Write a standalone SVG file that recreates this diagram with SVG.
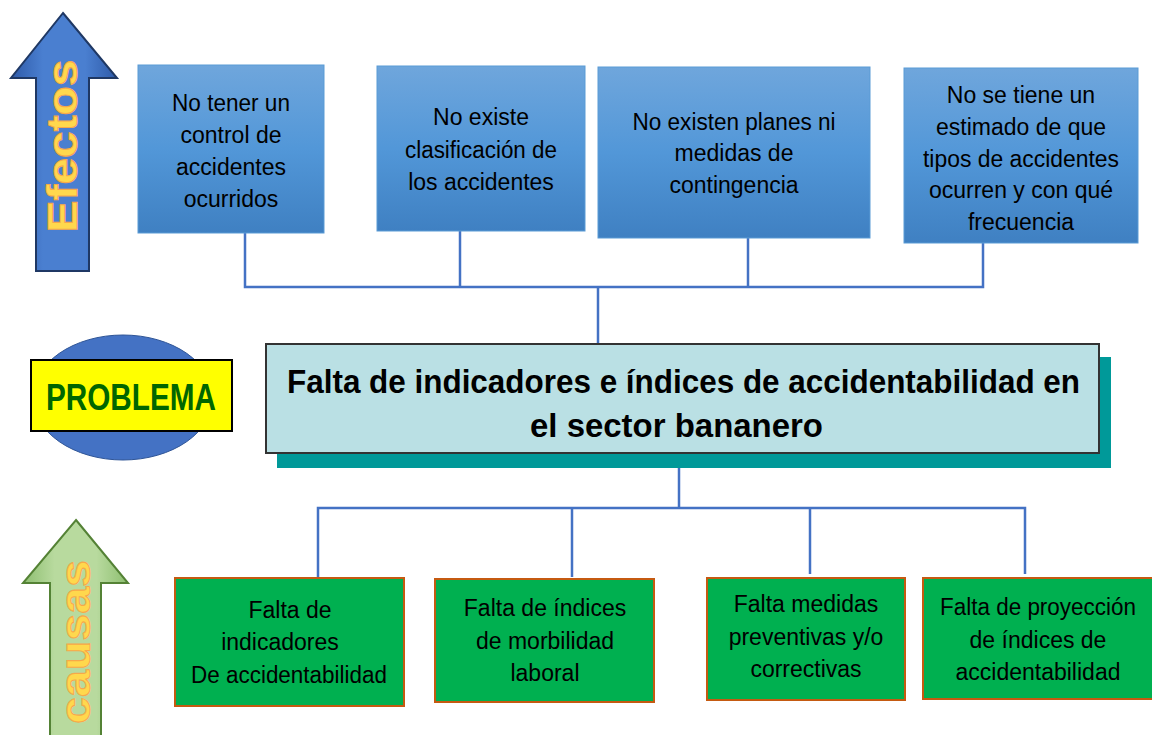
<svg xmlns="http://www.w3.org/2000/svg" width="1152" height="735" viewBox="0 0 1152 735">
<defs>
<linearGradient id="gBlue" x1="0" y1="0" x2="0" y2="1">
<stop offset="0" stop-color="#6FA6DC"/>
<stop offset="0.5" stop-color="#5297D8"/>
<stop offset="1" stop-color="#3F80C2"/>
</linearGradient>
<linearGradient id="gArrowBlue" x1="0" y1="0" x2="1" y2="0">
<stop offset="0" stop-color="#2E5AA8"/>
<stop offset="0.3" stop-color="#4A7FD0"/>
<stop offset="0.7" stop-color="#4A7FD0"/>
<stop offset="1" stop-color="#2E5AA8"/>
</linearGradient>
<linearGradient id="gArrowGreen" x1="0" y1="0" x2="1" y2="0">
<stop offset="0" stop-color="#8DBE70"/>
<stop offset="0.3" stop-color="#B8DA9E"/>
<stop offset="0.7" stop-color="#B8DA9E"/>
<stop offset="1" stop-color="#8DBE70"/>
</linearGradient>
</defs>
<style>
.conn{fill:none;stroke:#4472C4;stroke-width:2.5}
.eff rect{fill:url(#gBlue);stroke:#5B9BD5;stroke-width:1}
.cau rect{fill:#00B050;stroke:#C55A11;stroke-width:2}
.t{font-family:"Liberation Sans",Arial,sans-serif;font-size:23px;fill:#000;text-anchor:middle}
.big{font-family:"Liberation Sans",Arial,sans-serif;font-weight:bold;font-size:34px;fill:#000;text-anchor:middle}
.side{font-family:"Liberation Sans",Arial,sans-serif;font-weight:bold;font-size:42px;fill:#FFD84D;stroke:#F7A84A;stroke-width:1;text-anchor:middle}
</style>
<rect width="1152" height="735" fill="#FFFFFF"/>

<g id="arrow-efectos">
<polygon points="63,13 117,78 89,78 89,271 36,271 36,78 11,78" fill="url(#gArrowBlue)" stroke="#1F3864" stroke-width="2"/>
<text class="side" transform="translate(77,146) rotate(-90)" textLength="173" lengthAdjust="spacingAndGlyphs">Efectos</text>
</g>

<g id="arrow-causas">
<polygon points="76,520 128,583 101,583 101,740 50,740 50,583 23,583" fill="url(#gArrowGreen)" stroke="#548235" stroke-width="2"/>
<text class="side" transform="translate(90,642) rotate(-90)" textLength="164" lengthAdjust="spacingAndGlyphs">causas</text>
</g>

<g id="connectors">
<polyline class="conn" points="245,233 245,287 983,287 983,243"/>
<line class="conn" x1="460" y1="231" x2="460" y2="287"/>
<line class="conn" x1="748" y1="238" x2="748" y2="287"/>
<line class="conn" x1="598" y1="287" x2="598" y2="344"/>
<line class="conn" x1="679" y1="453" x2="679" y2="508"/>
<polyline class="conn" points="318,577 318,508 1025,508 1025,574"/>
<line class="conn" x1="572" y1="508" x2="572" y2="577"/>
<line class="conn" x1="810" y1="508" x2="810" y2="574"/>
</g>

<g id="efecto1" class="eff">
<rect x="138" y="65" width="186" height="168"/>
<text class="t" x="231" y="111" textLength="118" lengthAdjust="spacingAndGlyphs">No tener un</text>
<text class="t" x="231" y="143">control de</text>
<text class="t" x="231" y="175">accidentes</text>
<text class="t" x="231" y="207">ocurridos</text>
</g>
<g id="efecto2" class="eff">
<rect x="377" y="66" width="208" height="165"/>
<text class="t" x="481" y="125">No existe</text>
<text class="t" x="481" y="158" textLength="152" lengthAdjust="spacingAndGlyphs">clasificación de</text>
<text class="t" x="481" y="190">los accidentes</text>
</g>
<g id="efecto3" class="eff">
<rect x="598" y="67" width="272" height="171"/>
<text class="t" x="734" y="130" textLength="203" lengthAdjust="spacingAndGlyphs">No existen planes ni</text>
<text class="t" x="734" y="161">medidas de</text>
<text class="t" x="734" y="193">contingencia</text>
</g>
<g id="efecto4" class="eff">
<rect x="904" y="68" width="234" height="175"/>
<text class="t" x="1021" y="103">No se tiene un</text>
<text class="t" x="1021" y="135">estimado de que</text>
<text class="t" x="1021" y="167" textLength="196" lengthAdjust="spacingAndGlyphs">tipos de accidentes</text>
<text class="t" x="1021" y="198">ocurren y con qué</text>
<text class="t" x="1021" y="230">frecuencia</text>
</g>

<g id="problema-label">
<ellipse cx="123" cy="397.5" rx="90" ry="62.5" fill="#4472C4" stroke="#2F5597" stroke-width="1"/>
<rect x="31" y="360" width="201" height="71" fill="#FFFF00" stroke="#000" stroke-width="2"/>
<text x="131" y="410" font-family="'Liberation Sans',Arial,sans-serif" font-weight="bold" font-size="37" fill="#006600" text-anchor="middle" textLength="170" lengthAdjust="spacingAndGlyphs">PROBLEMA</text>
</g>

<g id="problema">
<rect x="277" y="357" width="834" height="111" fill="#009999"/>
<rect x="266" y="344" width="833" height="109" fill="#BAE0E4" stroke="#333333" stroke-width="2"/>
<text class="big" x="683.5" y="393" textLength="793" lengthAdjust="spacingAndGlyphs">Falta de indicadores e índices de accidentabilidad en</text>
<text class="big" x="676.5" y="437" textLength="293" lengthAdjust="spacingAndGlyphs">el sector bananero</text>
</g>

<g id="causa1" class="cau">
<rect x="175" y="578" width="229" height="128"/>
<text class="t" x="290" y="618">Falta de</text>
<text class="t" x="280" y="650">indicadores</text>
<text class="t" x="289" y="683" textLength="196" lengthAdjust="spacingAndGlyphs">De accidentabilidad</text>
</g>
<g id="causa2" class="cau">
<rect x="435" y="579" width="219" height="123"/>
<text class="t" x="545" y="616">Falta de índices</text>
<text class="t" x="545" y="649">de morbilidad</text>
<text class="t" x="545" y="681">laboral</text>
</g>
<g id="causa3" class="cau">
<rect x="707" y="578" width="198" height="122"/>
<text class="t" x="806" y="612">Falta medidas</text>
<text class="t" x="806" y="645">preventivas y/o</text>
<text class="t" x="806" y="677">correctivas</text>
</g>
<g id="causa4" class="cau">
<rect x="923" y="578" width="232" height="121"/>
<text class="t" x="1038" y="615" textLength="196" lengthAdjust="spacingAndGlyphs">Falta de proyección</text>
<text class="t" x="1038" y="648">de índices de</text>
<text class="t" x="1038" y="680">accidentabilidad</text>
</g>
</svg>
